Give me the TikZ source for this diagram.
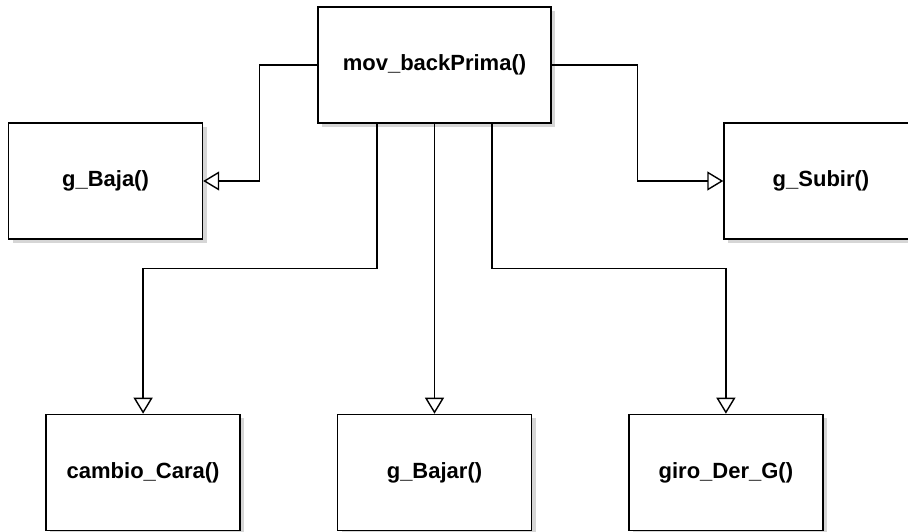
\documentclass[tikz,border=0pt]{standalone}
\usepackage{fontspec}
\setmainfont{Liberation Sans}
\usetikzlibrary{positioning,shadows,arrows.meta}
\tikzset{funcbox/.style={draw,black,line width=1.4pt,fill=white,
                         minimum width=194pt,minimum height=116pt,
                         font=\bfseries\fontsize{22}{26}\selectfont,
                         drop shadow={shadow xshift=4pt,shadow yshift=-4pt,
                                      fill=black!16,opacity=1}},
         inherit/.style={line width=1.4pt,
                         -{Triangle[open,length=16pt,width=19pt]}}}

\begin{document}
\begin{tikzpicture}[x=1pt,y=1pt]
\useasboundingbox[fill=white] (0,0) rectangle (908,531);

\node[funcbox,minimum width=233pt] (back) at (434.5,466) {mov\_backPrima()};
\node[funcbox] (baja) at (105.5,350) {g\_Baja()};
\node[funcbox] (subir) at (821,350) {g\_Subir()};

\node[funcbox,below=290pt of back] (bajar) {g\_Bajar()};
\node[funcbox,left=96pt of bajar] (cambio) {cambio\_Cara()};
\node[funcbox,right=96pt of bajar] (giro) {giro\_Der\_G()};

%\draw[inherit] (back) -- (baja);
\draw[inherit] (back.west) -- ++(-58,0) |- (baja.east);
\draw[inherit] (back.east) -- ++(86,0) |- (subir.west);
\draw[inherit] ([xshift=-57.5pt]back.south) |- ++(0,-145) -| (cambio.north);
\draw[inherit] (back.south) -- (bajar.north);
\draw[inherit] ([xshift=57.5pt]back.south) |- ++(0,-145) -| (giro.north);

\end{tikzpicture}
\end{document}
